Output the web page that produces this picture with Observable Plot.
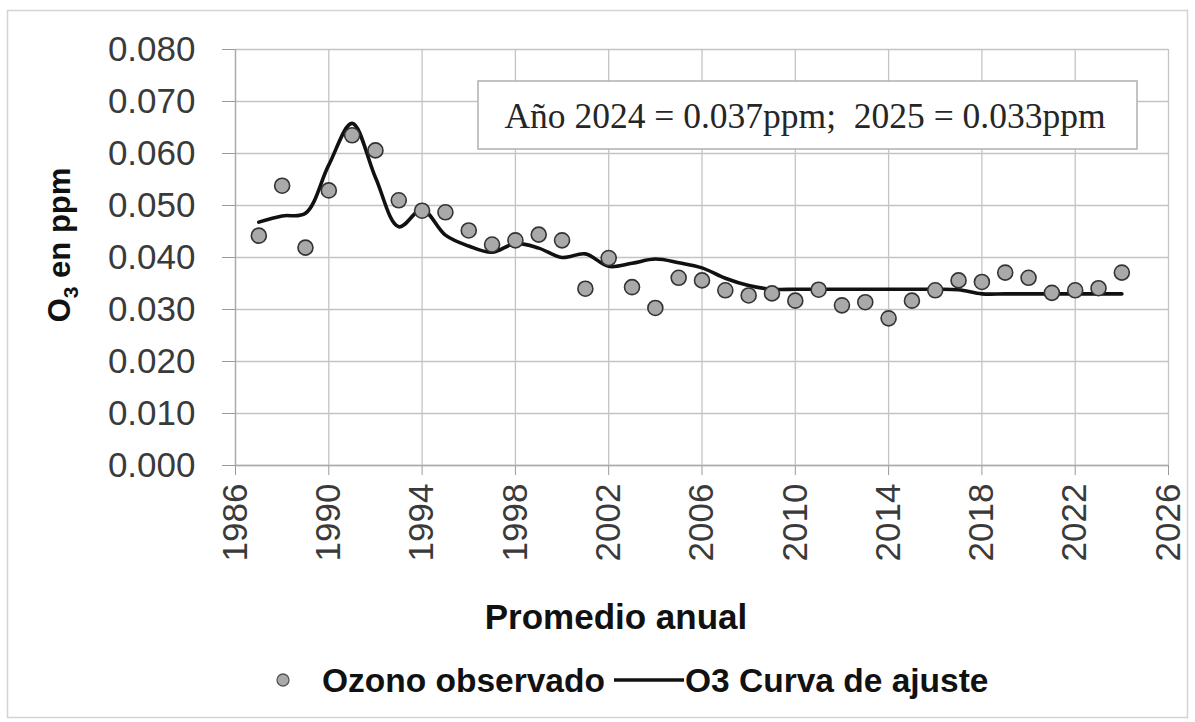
<!DOCTYPE html>
<html>
<head>
<meta charset="utf-8">
<script src="https://cdn.jsdelivr.net/npm/d3@7"></script>
<script src="https://cdn.jsdelivr.net/npm/@observablehq/plot@0.6"></script>
<style>
  html, body { margin: 0; padding: 0; background: #fff; }
  #chart { width: 1195px; height: 722px; }
</style>
</head>
<body>
<div id="chart"></div>
<script>
// ---- data ----
const years = [1987,1988,1989,1990,1991,1992,1993,1994,1995,1996,1997,1998,1999,2000,2001,2002,2003,2004,2005,2006,2007,2008,2009,2010,2011,2012,2013,2014,2015,2016,2017,2018,2019,2020,2021,2022,2023,2024];
const ozoneObserved = [0.0442,0.0538,0.0419,0.0529,0.0635,0.0606,0.0510,0.0490,0.0487,0.0452,0.0425,0.0433,0.0444,0.0433,0.0340,0.0399,0.0343,0.0303,0.0361,0.0356,0.0337,0.0327,0.0331,0.0317,0.0338,0.0308,0.0314,0.0283,0.0317,0.0337,0.0356,0.0353,0.0371,0.0361,0.0332,0.0337,0.0341,0.0371];
const ozoneFit = [0.0468,0.0480,0.0485,0.0578,0.0658,0.0554,0.0459,0.0492,0.0443,0.0422,0.0410,0.0427,0.0418,0.0400,0.0407,0.0383,0.0389,0.0397,0.0390,0.0380,0.0360,0.0346,0.0339,0.0339,0.0339,0.0339,0.0339,0.0339,0.0339,0.0339,0.0338,0.0330,0.0330,0.0330,0.0330,0.0330,0.0330,0.0330];
const xTicks = [1986,1990,1994,1998,2002,2006,2010,2014,2018,2022,2026];
const yTicks = [0,0.01,0.02,0.03,0.04,0.05,0.06,0.07,0.08];
const yTitle = ["O", "3", " en ppm"];
const xTitle = "Promedio anual";
const legendLabels = ["Ozono observado", "O3 Curva de ajuste"];
const noteText = "Año 2024 = 0.037ppm;  2025 = 0.033ppm";

const obs = years.map((y, i) => ({year: y, value: ozoneObserved[i]}));
const fit = years.map((y, i) => ({year: y, value: ozoneFit[i]}));

const SANS = "'Liberation Sans', Arial, sans-serif";
const GRID = "#c4c4c4";

const plot = Plot.plot({
  width: 1195,
  height: 722,
  marginLeft: 235,
  marginRight: 27,
  marginTop: 49,
  marginBottom: 257,
  style: {fontFamily: SANS, background: "#fff", overflow: "visible"},
  x: {domain: [1986, 2026], label: null},
  y: {domain: [0, 0.08], label: null},
  marks: [
    Plot.gridY(yTicks, {stroke: GRID, strokeOpacity: 1, strokeWidth: 1.3}),
    Plot.gridX(xTicks, {stroke: GRID, strokeOpacity: 1, strokeWidth: 1.3}),
    Plot.axisY({ticks: yTicks, tickFormat: d3.format(".3f"), tickSize: 13, tickPadding: 27,
      fontSize: 35, stroke: "#999", fill: "#3a3a3a", label: null}),
    Plot.axisX({ticks: xTicks, tickFormat: d => String(d), tickRotate: -90, tickSize: 10, tickPadding: 8,
      fontSize: 35, stroke: "#999", fill: "#3a3a3a", label: null}),
    Plot.ruleY([0], {stroke: "#aaa", strokeWidth: 1.3}),
    Plot.ruleX([1986], {stroke: "#aaa", strokeWidth: 1.3}),
    Plot.line(fit, {x: "year", y: "value", curve: "catmull-rom", stroke: "#111", strokeWidth: 3.6}),
    Plot.dot(obs, {x: "year", y: "value", r: 7.5, fill: "#a9a9a9", stroke: "#333", strokeWidth: 1.6})
  ]
});

document.getElementById("chart").appendChild(plot);

const svg = d3.select(plot);

// outer border
svg.insert("rect", ":first-child")
  .attr("x", 7.5).attr("y", 10.5).attr("width", 1180).attr("height", 707)
  .attr("fill", "none").attr("stroke", "#d4d4d4").attr("stroke-width", 1.5);

// annotation box
const note = svg.append("g");
note.append("rect")
  .attr("x", 478).attr("y", 81).attr("width", 659).attr("height", 68)
  .attr("fill", "#fff").attr("stroke", "#b0b0b0").attr("stroke-width", 1.5);
note.append("text")
  .attr("x", 805).attr("y", 128).attr("text-anchor", "middle")
  .attr("font-family", "'Liberation Serif', 'Times New Roman', serif")
  .attr("font-size", 35.5).attr("fill", "#262626")
  .attr("xml:space", "preserve")
  .text(noteText);

// y title with subscript
const yt = svg.append("text")
  .attr("transform", "translate(70,245) rotate(-90)")
  .attr("text-anchor", "middle")
  .attr("font-family", SANS).attr("font-weight", "bold").attr("font-size", 31).attr("fill", "#111");
yt.append("tspan").text(yTitle[0]);
yt.append("tspan").attr("font-size", 21).attr("dy", 8).text(yTitle[1]);
yt.append("tspan").attr("dy", -8).text(yTitle[2]);

// x title
svg.append("text")
  .attr("x", 616).attr("y", 629).attr("text-anchor", "middle")
  .attr("font-family", SANS).attr("font-weight", "bold").attr("font-size", 35).attr("fill", "#111")
  .text(xTitle);

// legend
const lg = svg.append("g").attr("font-family", SANS).attr("font-weight", "bold").attr("font-size", 33.5)
  .attr("fill", "#111").attr("text-anchor", "start");
lg.append("circle").attr("cx", 283).attr("cy", 680).attr("r", 6)
  .attr("fill", "#a9a9a9").attr("stroke", "#555").attr("stroke-width", 1.3);
lg.append("text").attr("x", 322).attr("y", 692).text(legendLabels[0]);
lg.append("line").attr("x1", 614).attr("x2", 684).attr("y1", 680).attr("y2", 680)
  .attr("stroke", "#111").attr("stroke-width", 3.5);
lg.append("text").attr("x", 685).attr("y", 692).text(legendLabels[1]);
</script>
</body>
</html>
